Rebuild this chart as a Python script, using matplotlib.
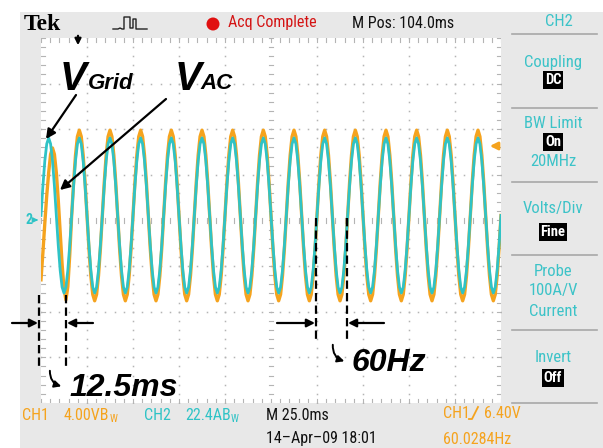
import numpy as np
import matplotlib
matplotlib.use("Agg")
import matplotlib.pyplot as plt
from matplotlib import font_manager
from matplotlib.patches import Rectangle, Circle, FancyArrowPatch

plt.rcParams['lines.scale_dashes'] = False

installed = {f.name for f in font_manager.fontManager.ttflist}
narrow = 'DejaVu Sans'
for cand in ['Liberation Sans Narrow', 'DejaVu Sans Condensed', 'Roboto Condensed', 'Roboto']:
    if cand in installed:
        narrow = cand
        break
bold_it = 'Liberation Sans' if 'Liberation Sans' in installed else 'DejaVu Sans'

# scope settings
time_div_ms = 25.0
n_div_x = 10
n_div_y = 8
samples_per_cycle = 16
n_cycles = 15

# one cycle of each trace, in divisions from screen centre
ch2_cycle = [0.11, 0.76, 1.31, 1.68, 1.81, 1.68, 1.31, 0.76,
             0.11, -0.54, -1.09, -1.46, -1.59, -1.46, -1.09, -0.54]
ch1_cycle = [0.11, 0.83, 1.43, 1.84, 1.98, 1.84, 1.43, 0.83,
             0.11, -0.61, -1.21, -1.62, -1.76, -1.62, -1.21, -0.61]
# inverter start-up (first cycle of CH1)
ch1_start = [-1.30, -0.70, -0.05, 0.55, 1.05, 1.45, 1.59, 1.45,
             1.05, 0.45, -0.25, -0.95, -1.50, -1.74, -1.45, -0.75]

n_pts = samples_per_cycle * n_cycles + 1
ch2 = np.tile(ch2_cycle, n_cycles + 1)[:n_pts]
ch1 = np.tile(ch1_cycle, n_cycles + 1)[:n_pts]
ch1[:samples_per_cycle] = ch1_start
t = np.arange(n_pts) * n_div_x / (n_pts - 1)

C_CH1 = '#f5a31e'
C_CH2 = '#2fc3c6'
C_MENU = '#3cc3c8'
GRAY = '#e8e8e8'

W, H = 603, 448
fig = plt.figure(figsize=(W / 100, H / 100), dpi=100, facecolor='white')

bg = fig.add_axes([0, 0, 1, 1], zorder=0)
bg.set_xlim(0, W)
bg.set_ylim(H, 0)
bg.axis('off')
bg.add_patch(Rectangle((20, 12), W - 20, H - 12, fc=GRAY, ec='none'))

# graticule
gx0, gy0, gw, gh = 41, 38, 460, 365
g = fig.add_axes([gx0 / W, 1 - (gy0 + gh) / H, gw / W, gh / H], zorder=1)
g.set_xlim(0, n_div_x)
g.set_ylim(-n_div_y / 2, n_div_y / 2)
g.set_facecolor('white')
for s in g.spines.values():
    s.set_visible(False)
g.set_xticks([])
g.set_yticks([])

dot_c = '#b4b4b4'
fine_x = np.arange(0, n_div_x + 0.01, 0.2)
fine_y = np.arange(-n_div_y / 2, n_div_y / 2 + 0.01, 0.2)
for i in range(1, n_div_x):
    if i == 5:
        continue
    g.plot(np.full_like(fine_y, i), fine_y, ls='none', marker='s', ms=1.1, color=dot_c, mec='none')
for j in range(-3, 4):
    if j == 0:
        continue
    g.plot(fine_x, np.full_like(fine_x, j), ls='none', marker='s', ms=1.1, color=dot_c, mec='none')
# centre cross with fine ticks
for xv in fine_x:
    g.plot([xv, xv], [-0.05, 0.05], color=dot_c, lw=0.8)
for yv in fine_y:
    g.plot([4.95, 5.05], [yv, yv], color=dot_c, lw=0.8)
# edge ticks
for xv in fine_x:
    g.plot([xv, xv], [4, 3.92], color=dot_c, lw=0.8)
    g.plot([xv, xv], [-4, -3.92], color=dot_c, lw=0.8)
for yv in fine_y:
    g.plot([0, 0.08], [yv, yv], color=dot_c, lw=0.8)
    g.plot([10, 9.92], [yv, yv], color=dot_c, lw=0.8)

g.plot(t, ch1, color=C_CH1, lw=2.4)
g.plot(t, ch2, color=C_CH2, lw=2.0)

# overlay in pixel coordinates
ov = fig.add_axes([0, 0, 1, 1], zorder=2)
ov.set_xlim(0, W)
ov.set_ylim(H, 0)
ov.axis('off')
ov.patch.set_visible(False)

# top status bar
ov.text(24, 24, 'Tek', family='Liberation Serif', weight='bold', fontsize=17, va='center', ha='left')
pulse_x = [113, 118, 120, 122, 124, 124, 130, 130, 133, 133, 136, 136, 141, 147]
pulse_y = [29, 29, 28, 29, 29, 17, 17, 28, 28, 19, 19, 29, 29, 29]
ov.plot(pulse_x, pulse_y, color='#222222', lw=1.0)
ov.add_patch(Circle((213, 24), 6.5, fc='#e01010', ec='none'))
ov.text(228, 23, 'Acq Complete', family=narrow, fontsize=11.5, color='#d41414', va='center')
ov.text(352, 23, 'M Pos: 104.0ms', family=narrow, fontsize=11.5, color='#111111', va='center')

# trigger position and level markers
ov.annotate('', xy=(78, 48), xytext=(78, 33),
            arrowprops=dict(arrowstyle='-|>', color='k', lw=1.6, mutation_scale=9))
ov.annotate('', xy=(487, 146), xytext=(500, 146),
            arrowprops=dict(arrowstyle='-|>', color=C_CH1, lw=2, mutation_scale=11))
ov.text(29, 220, '2', family=narrow, fontsize=10, color=C_CH2, va='center', ha='center', weight='bold')
ov.annotate('', xy=(41, 220), xytext=(33, 220),
            arrowprops=dict(arrowstyle='-|>', color=C_CH2, lw=1.2, mutation_scale=7))

# right menu panel
mx = 553
for ys in [34, 108, 182, 255, 330, 403]:
    ov.plot([512, 597], [ys, ys], color='#a8a8a8', lw=1.2)
ov.text(559, 22, 'CH2', family=narrow, fontsize=12, color=C_MENU, ha='center', va='center')
menu = [('Coupling', 62), ('BW Limit', 123), ('20MHz', 161), ('Volts/Div', 208),
        ('Probe', 271), ('100A/V', 291), ('Current', 312), ('Invert', 357)]
for label, ym in menu:
    ov.text(mx, ym, label, family=narrow, fontsize=12, color=C_MENU, ha='center', va='center')
boxed = [('DC', 80), ('On', 142), ('Fine', 232), ('Off', 378)]
for label, ym in boxed:
    ov.text(mx, ym, label, family=narrow, fontsize=10.5, color='white', ha='center', va='center',
            weight='bold', bbox=dict(boxstyle='square,pad=0.12', fc='black', ec='none'))

# bottom status bar
def bw_text(x, y, s, color):
    txt = ov.text(x, y, s, family=narrow, fontsize=11.5, color=color, va='center')
    ov.annotate('W', xy=(1, 0.2), xycoords=txt, xytext=(0.3, 0), textcoords='offset points',
                family=narrow, fontsize=7.5, color=color, va='center', ha='left')

ov.text(22, 415, 'CH1', family=narrow, fontsize=11.5, color=C_CH1, va='center')
bw_text(64, 415, '4.00VB', C_CH1)
ov.text(144, 415, 'CH2', family=narrow, fontsize=11.5, color=C_CH2, va='center')
bw_text(185, 415, '22.4AB', C_CH2)
ov.text(266, 415, 'M 25.0ms', family=narrow, fontsize=11.5, color='#111111', va='center')
ov.text(266, 438, '14\u2013Apr\u201309 18:01', family=narrow, fontsize=11.5, color='#111111', va='center')
ov.text(443, 413, 'CH1', family=narrow, fontsize=11.5, color=C_CH1, va='center')
ov.plot([469, 472, 478], [419, 419, 407], color=C_CH1, lw=1.3)
ov.text(484, 413, '6.40V', family=narrow, fontsize=11.5, color=C_CH1, va='center')
ov.text(443, 439, '60.0284Hz', family=narrow, fontsize=11.5, color=C_CH1, va='center')

# trace labels
bi = dict(family=bold_it, weight='bold', style='italic', color='black', va='baseline')
ov.text(60, 90, 'V', fontsize=29, **bi)
ov.text(88, 89, 'Grid', fontsize=16, **bi)
ov.text(175, 90, 'V', fontsize=29, **bi)
ov.text(200, 89, 'AC', fontsize=16, **bi)
ov.annotate('', xy=(46, 139), xytext=(76, 95),
            arrowprops=dict(arrowstyle='-|>', color='k', lw=1.6, mutation_scale=14, shrinkA=0, shrinkB=0))
ov.annotate('', xy=(60, 190), xytext=(166, 99),
            arrowprops=dict(arrowstyle='-|>', color='k', lw=1.6, mutation_scale=14, shrinkA=0, shrinkB=0))

# start-up time and frequency markers
for xd, y_top, y_bot in [(39, 295, 367), (66, 295, 367), (316, 218, 343), (347, 218, 343)]:
    ov.plot([xd, xd], [y_top, y_bot], color='k', lw=1.6, dashes=(6, 3))
for x_from, x_to in [(12, 38), (93, 67), (277, 315), (384, 348)]:
    ov.annotate('', xy=(x_to, 323), xytext=(x_from, 323),
                arrowprops=dict(arrowstyle='-|>', color='k', lw=1.6, mutation_scale=12, shrinkA=0, shrinkB=0))
for (xa, ya), (xb, yb) in [((50, 368), (64, 387)), ((333, 342), (347, 362))]:
    ov.add_patch(FancyArrowPatch((xa, ya), (xb, yb), connectionstyle='arc3,rad=0.45',
                                 arrowstyle='-|>', mutation_scale=10, color='k', lw=1.4))
ov.text(69, 396, '12.5ms', fontsize=23, **bi)
ov.text(352, 371, '60Hz', fontsize=23, **bi)

fig.savefig('out.png', dpi=100, facecolor='white')
